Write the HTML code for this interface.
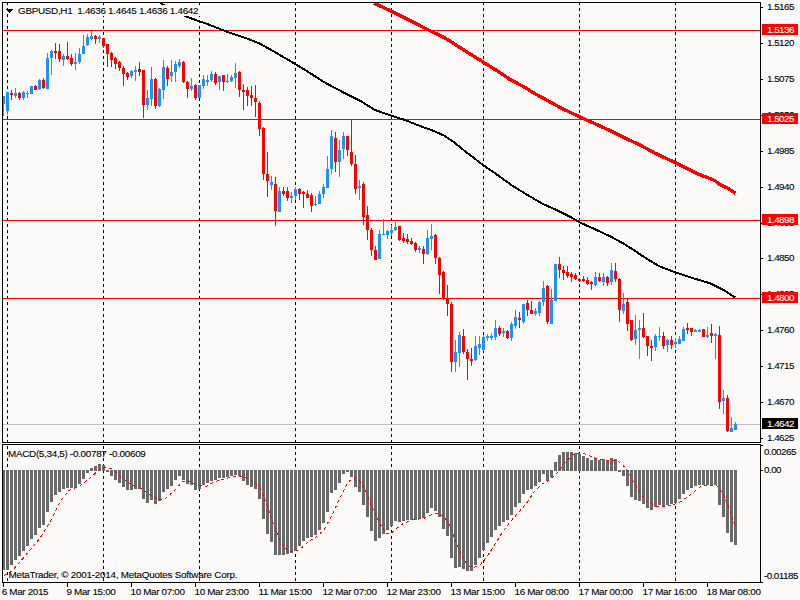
<!DOCTYPE html><html><head><meta charset="utf-8"><title>GBPUSD,H1</title><style>
html,body{margin:0;padding:0;background:#fcfaf9;}
body{width:800px;height:600px;position:relative;overflow:hidden;font-family:"Liberation Sans",sans-serif;font-size:9px;color:#000;}
svg{position:absolute;left:0;top:0;}
svg rect{shape-rendering:crispEdges;}
.g{stroke:#000;stroke-width:1;stroke-dasharray:3 3;shape-rendering:crispEdges;}
.t{position:absolute;white-space:nowrap;line-height:11px;height:11px;}
.t,.pl{font-size:9.9px;-webkit-text-stroke:0.1px currentColor;}
.ax,.pl{letter-spacing:-0.55px;}
.dt{letter-spacing:-0.34px;}
#title{letter-spacing:-0.3px;}
#macd{letter-spacing:-0.3px;}
#copy{letter-spacing:-0.24px;}
.pl{position:absolute;left:762px;width:36px;height:11px;line-height:11px;color:#fff;text-indent:5px;white-space:nowrap;}

</style></head><body>
<svg width="800" height="600" viewBox="0 0 800 600"><line x1="7.5" y1="2" x2="7.5" y2="442" class="g"/>
<line x1="7.5" y1="446" x2="7.5" y2="582" class="g"/>
<line x1="103.5" y1="2" x2="103.5" y2="442" class="g"/>
<line x1="103.5" y1="446" x2="103.5" y2="582" class="g"/>
<line x1="199.5" y1="2" x2="199.5" y2="442" class="g"/>
<line x1="199.5" y1="446" x2="199.5" y2="582" class="g"/>
<line x1="295.5" y1="2" x2="295.5" y2="442" class="g"/>
<line x1="295.5" y1="446" x2="295.5" y2="582" class="g"/>
<line x1="391.5" y1="2" x2="391.5" y2="442" class="g"/>
<line x1="391.5" y1="446" x2="391.5" y2="582" class="g"/>
<line x1="483.5" y1="2" x2="483.5" y2="442" class="g"/>
<line x1="483.5" y1="446" x2="483.5" y2="582" class="g"/>
<line x1="579.5" y1="2" x2="579.5" y2="442" class="g"/>
<line x1="579.5" y1="446" x2="579.5" y2="582" class="g"/>
<line x1="675.5" y1="2" x2="675.5" y2="442" class="g"/>
<line x1="675.5" y1="446" x2="675.5" y2="582" class="g"/>
<rect x="3" y="30" width="757" height="1" fill="#ff0000"/>
<rect x="3" y="119" width="757" height="1" fill="#ff0000"/>
<rect x="3" y="220" width="757" height="1" fill="#ff0000"/>
<rect x="3" y="298" width="757" height="1" fill="#ff0000"/>
<rect x="3" y="424" width="757" height="1" fill="#c0c0c0"/>
<rect x="2" y="470" width="3" height="100" fill="#696969"/>
<rect x="6" y="470" width="3" height="100" fill="#696969"/>
<rect x="10" y="470" width="3" height="95" fill="#696969"/>
<rect x="14" y="470" width="3" height="90" fill="#696969"/>
<rect x="18" y="470" width="3" height="86" fill="#696969"/>
<rect x="22" y="470" width="3" height="81" fill="#696969"/>
<rect x="26" y="470" width="3" height="76" fill="#696969"/>
<rect x="30" y="470" width="3" height="69" fill="#696969"/>
<rect x="34" y="470" width="3" height="65" fill="#696969"/>
<rect x="38" y="470" width="3" height="58" fill="#696969"/>
<rect x="42" y="470" width="3" height="55" fill="#696969"/>
<rect x="46" y="470" width="3" height="42" fill="#696969"/>
<rect x="50" y="470" width="3" height="32" fill="#696969"/>
<rect x="54" y="470" width="3" height="25" fill="#696969"/>
<rect x="58" y="470" width="3" height="22" fill="#696969"/>
<rect x="62" y="470" width="3" height="19" fill="#696969"/>
<rect x="66" y="470" width="3" height="18" fill="#696969"/>
<rect x="70" y="470" width="3" height="18" fill="#696969"/>
<rect x="74" y="470" width="3" height="18" fill="#696969"/>
<rect x="78" y="470" width="3" height="14" fill="#696969"/>
<rect x="82" y="470" width="3" height="9" fill="#696969"/>
<rect x="86" y="470" width="3" height="3" fill="#696969"/>
<rect x="90" y="468" width="3" height="3" fill="#696969"/>
<rect x="94" y="466" width="3" height="5" fill="#696969"/>
<rect x="98" y="464" width="3" height="7" fill="#696969"/>
<rect x="102" y="465" width="3" height="6" fill="#696969"/>
<rect x="106" y="470" width="3" height="2" fill="#696969"/>
<rect x="110" y="470" width="3" height="6" fill="#696969"/>
<rect x="114" y="470" width="3" height="10" fill="#696969"/>
<rect x="118" y="470" width="3" height="13" fill="#696969"/>
<rect x="122" y="470" width="3" height="17" fill="#696969"/>
<rect x="126" y="470" width="3" height="20" fill="#696969"/>
<rect x="130" y="470" width="3" height="20" fill="#696969"/>
<rect x="134" y="470" width="3" height="19" fill="#696969"/>
<rect x="138" y="470" width="3" height="19" fill="#696969"/>
<rect x="142" y="470" width="3" height="29" fill="#696969"/>
<rect x="146" y="470" width="3" height="33" fill="#696969"/>
<rect x="150" y="470" width="3" height="30" fill="#696969"/>
<rect x="154" y="470" width="3" height="34" fill="#696969"/>
<rect x="158" y="470" width="3" height="31" fill="#696969"/>
<rect x="162" y="470" width="3" height="22" fill="#696969"/>
<rect x="166" y="470" width="3" height="19" fill="#696969"/>
<rect x="170" y="470" width="3" height="16" fill="#696969"/>
<rect x="174" y="470" width="3" height="10" fill="#696969"/>
<rect x="178" y="470" width="3" height="6" fill="#696969"/>
<rect x="182" y="470" width="3" height="10" fill="#696969"/>
<rect x="186" y="470" width="3" height="14" fill="#696969"/>
<rect x="190" y="470" width="3" height="15" fill="#696969"/>
<rect x="194" y="470" width="3" height="20" fill="#696969"/>
<rect x="198" y="470" width="3" height="19" fill="#696969"/>
<rect x="202" y="470" width="3" height="15" fill="#696969"/>
<rect x="206" y="470" width="3" height="13" fill="#696969"/>
<rect x="210" y="470" width="3" height="11" fill="#696969"/>
<rect x="214" y="470" width="3" height="10" fill="#696969"/>
<rect x="218" y="470" width="3" height="8" fill="#696969"/>
<rect x="222" y="470" width="3" height="8" fill="#696969"/>
<rect x="226" y="470" width="3" height="7" fill="#696969"/>
<rect x="230" y="470" width="3" height="6" fill="#696969"/>
<rect x="234" y="470" width="3" height="5" fill="#696969"/>
<rect x="238" y="470" width="3" height="6" fill="#696969"/>
<rect x="242" y="470" width="3" height="11" fill="#696969"/>
<rect x="246" y="470" width="3" height="15" fill="#696969"/>
<rect x="250" y="470" width="3" height="17" fill="#696969"/>
<rect x="254" y="470" width="3" height="19" fill="#696969"/>
<rect x="258" y="470" width="3" height="29" fill="#696969"/>
<rect x="262" y="470" width="3" height="49" fill="#696969"/>
<rect x="266" y="470" width="3" height="64" fill="#696969"/>
<rect x="270" y="470" width="3" height="72" fill="#696969"/>
<rect x="274" y="470" width="3" height="85" fill="#696969"/>
<rect x="278" y="470" width="3" height="85" fill="#696969"/>
<rect x="282" y="470" width="3" height="85" fill="#696969"/>
<rect x="286" y="470" width="3" height="84" fill="#696969"/>
<rect x="290" y="470" width="3" height="83" fill="#696969"/>
<rect x="294" y="470" width="3" height="81" fill="#696969"/>
<rect x="298" y="470" width="3" height="76" fill="#696969"/>
<rect x="302" y="470" width="3" height="71" fill="#696969"/>
<rect x="306" y="470" width="3" height="68" fill="#696969"/>
<rect x="310" y="470" width="3" height="67" fill="#696969"/>
<rect x="314" y="470" width="3" height="65" fill="#696969"/>
<rect x="318" y="470" width="3" height="60" fill="#696969"/>
<rect x="322" y="470" width="3" height="53" fill="#696969"/>
<rect x="326" y="470" width="3" height="42" fill="#696969"/>
<rect x="330" y="470" width="3" height="23" fill="#696969"/>
<rect x="334" y="470" width="3" height="20" fill="#696969"/>
<rect x="338" y="470" width="3" height="13" fill="#696969"/>
<rect x="342" y="470" width="3" height="4" fill="#696969"/>
<rect x="346" y="470" width="3" height="2" fill="#696969"/>
<rect x="350" y="470" width="3" height="7" fill="#696969"/>
<rect x="354" y="470" width="3" height="17" fill="#696969"/>
<rect x="358" y="470" width="3" height="22" fill="#696969"/>
<rect x="362" y="470" width="3" height="35" fill="#696969"/>
<rect x="366" y="470" width="3" height="47" fill="#696969"/>
<rect x="370" y="470" width="3" height="61" fill="#696969"/>
<rect x="374" y="470" width="3" height="71" fill="#696969"/>
<rect x="378" y="470" width="3" height="68" fill="#696969"/>
<rect x="382" y="470" width="3" height="64" fill="#696969"/>
<rect x="386" y="470" width="3" height="60" fill="#696969"/>
<rect x="390" y="470" width="3" height="56" fill="#696969"/>
<rect x="394" y="470" width="3" height="51" fill="#696969"/>
<rect x="398" y="470" width="3" height="52" fill="#696969"/>
<rect x="402" y="470" width="3" height="51" fill="#696969"/>
<rect x="406" y="470" width="3" height="50" fill="#696969"/>
<rect x="410" y="470" width="3" height="50" fill="#696969"/>
<rect x="414" y="470" width="3" height="50" fill="#696969"/>
<rect x="418" y="470" width="3" height="49" fill="#696969"/>
<rect x="422" y="470" width="3" height="48" fill="#696969"/>
<rect x="426" y="470" width="3" height="43" fill="#696969"/>
<rect x="430" y="470" width="3" height="38" fill="#696969"/>
<rect x="434" y="470" width="3" height="41" fill="#696969"/>
<rect x="438" y="470" width="3" height="47" fill="#696969"/>
<rect x="442" y="470" width="3" height="59" fill="#696969"/>
<rect x="446" y="470" width="3" height="66" fill="#696969"/>
<rect x="450" y="470" width="3" height="88" fill="#696969"/>
<rect x="454" y="470" width="3" height="98" fill="#696969"/>
<rect x="458" y="470" width="3" height="97" fill="#696969"/>
<rect x="462" y="470" width="3" height="99" fill="#696969"/>
<rect x="466" y="470" width="3" height="101" fill="#696969"/>
<rect x="470" y="470" width="3" height="101" fill="#696969"/>
<rect x="474" y="470" width="3" height="95" fill="#696969"/>
<rect x="478" y="470" width="3" height="88" fill="#696969"/>
<rect x="482" y="470" width="3" height="80" fill="#696969"/>
<rect x="486" y="470" width="3" height="73" fill="#696969"/>
<rect x="490" y="470" width="3" height="67" fill="#696969"/>
<rect x="494" y="470" width="3" height="60" fill="#696969"/>
<rect x="498" y="470" width="3" height="56" fill="#696969"/>
<rect x="502" y="470" width="3" height="52" fill="#696969"/>
<rect x="506" y="470" width="3" height="50" fill="#696969"/>
<rect x="510" y="470" width="3" height="45" fill="#696969"/>
<rect x="514" y="470" width="3" height="37" fill="#696969"/>
<rect x="518" y="470" width="3" height="33" fill="#696969"/>
<rect x="522" y="470" width="3" height="24" fill="#696969"/>
<rect x="526" y="470" width="3" height="20" fill="#696969"/>
<rect x="530" y="470" width="3" height="19" fill="#696969"/>
<rect x="534" y="470" width="3" height="16" fill="#696969"/>
<rect x="538" y="470" width="3" height="12" fill="#696969"/>
<rect x="542" y="470" width="3" height="4" fill="#696969"/>
<rect x="546" y="470" width="3" height="11" fill="#696969"/>
<rect x="550" y="470" width="3" height="7" fill="#696969"/>
<rect x="554" y="462" width="3" height="9" fill="#696969"/>
<rect x="558" y="455" width="3" height="16" fill="#696969"/>
<rect x="562" y="452" width="3" height="19" fill="#696969"/>
<rect x="566" y="452" width="3" height="19" fill="#696969"/>
<rect x="570" y="452" width="3" height="19" fill="#696969"/>
<rect x="574" y="453" width="3" height="18" fill="#696969"/>
<rect x="578" y="454" width="3" height="17" fill="#696969"/>
<rect x="582" y="456" width="3" height="15" fill="#696969"/>
<rect x="586" y="458" width="3" height="13" fill="#696969"/>
<rect x="590" y="460" width="3" height="11" fill="#696969"/>
<rect x="594" y="458" width="3" height="13" fill="#696969"/>
<rect x="598" y="460" width="3" height="11" fill="#696969"/>
<rect x="602" y="459" width="3" height="12" fill="#696969"/>
<rect x="606" y="460" width="3" height="11" fill="#696969"/>
<rect x="610" y="458" width="3" height="13" fill="#696969"/>
<rect x="614" y="459" width="3" height="12" fill="#696969"/>
<rect x="618" y="470" width="3" height="2" fill="#696969"/>
<rect x="622" y="470" width="3" height="6" fill="#696969"/>
<rect x="626" y="470" width="3" height="16" fill="#696969"/>
<rect x="630" y="470" width="3" height="27" fill="#696969"/>
<rect x="634" y="470" width="3" height="30" fill="#696969"/>
<rect x="638" y="470" width="3" height="31" fill="#696969"/>
<rect x="642" y="470" width="3" height="34" fill="#696969"/>
<rect x="646" y="470" width="3" height="38" fill="#696969"/>
<rect x="650" y="470" width="3" height="40" fill="#696969"/>
<rect x="654" y="470" width="3" height="37" fill="#696969"/>
<rect x="658" y="470" width="3" height="35" fill="#696969"/>
<rect x="662" y="470" width="3" height="36" fill="#696969"/>
<rect x="666" y="470" width="3" height="35" fill="#696969"/>
<rect x="670" y="470" width="3" height="34" fill="#696969"/>
<rect x="674" y="470" width="3" height="33" fill="#696969"/>
<rect x="678" y="470" width="3" height="29" fill="#696969"/>
<rect x="682" y="470" width="3" height="24" fill="#696969"/>
<rect x="686" y="470" width="3" height="20" fill="#696969"/>
<rect x="690" y="470" width="3" height="18" fill="#696969"/>
<rect x="694" y="470" width="3" height="16" fill="#696969"/>
<rect x="698" y="470" width="3" height="15" fill="#696969"/>
<rect x="702" y="470" width="3" height="15" fill="#696969"/>
<rect x="706" y="470" width="3" height="15" fill="#696969"/>
<rect x="710" y="470" width="3" height="15" fill="#696969"/>
<rect x="714" y="470" width="3" height="15" fill="#696969"/>
<rect x="718" y="470" width="3" height="35" fill="#696969"/>
<rect x="722" y="470" width="3" height="47" fill="#696969"/>
<rect x="726" y="470" width="3" height="63" fill="#696969"/>
<rect x="730" y="470" width="3" height="72" fill="#696969"/>
<rect x="734" y="470" width="3" height="75" fill="#696969"/>
<polyline points="4,575.6 12,571 20,562 30,550 40,538 50,522 60,502 68,491 80,486 90,478 100,469 106,467.6 112,469 120,476 130,484 140,488 150,495 158,500 166,498 174,491 182,482 190,481 198,485.6 206,486.4 214,482 224,479 234,476.4 240,476.4 248,478.4 254,482 260,488 266,502 272,520 278,536 284,547 290,552 296,551 302,547.6 308,542 316,537 324,530 332,515 340,498 348,482 354,478 360,481 366,492 372,507 380,524 386,533 390,534.4 396,529 404,523 412,520 424,518.4 432,514.4 438,513.6 444,516.4 450,526 456,542 462,556 468,566 474,567.6 480,565 486,558 494,546 502,533 510,522 518,513 526,504 534,492 542,484 550,479.6 558,472 564,464 572,455 578,453 584,453.6 592,457 600,459.6 608,460.4 616,460.4 622,464 628,471 634,483 640,493 648,502 656,506 664,506.4 672,505 680,502 688,496.4 696,490.4 700,487 708,485 716,485 722,492 728,505 734,523 736,528" fill="none" stroke="#ff0000" stroke-width="1" stroke-dasharray="3 3" shape-rendering="crispEdges"/>
<rect x="3" y="96" width="1" height="20" fill="#1e90ff"/>
<rect x="2" y="96" width="3" height="8" fill="#1e90ff"/>
<rect x="7" y="92" width="1" height="23" fill="#1e90ff"/>
<rect x="6" y="92" width="3" height="19" fill="#1e90ff"/>
<rect x="11" y="90" width="1" height="10" fill="#ff0000"/>
<rect x="10" y="93" width="3" height="2" fill="#ff0000"/>
<rect x="15" y="88" width="1" height="10" fill="#1e90ff"/>
<rect x="14" y="93" width="3" height="3" fill="#1e90ff"/>
<rect x="19" y="92" width="1" height="8" fill="#ff0000"/>
<rect x="18" y="93" width="3" height="5" fill="#ff0000"/>
<rect x="23" y="91" width="1" height="9" fill="#1e90ff"/>
<rect x="22" y="92" width="3" height="6" fill="#1e90ff"/>
<rect x="27" y="91" width="1" height="7" fill="#1e90ff"/>
<rect x="26" y="93" width="3" height="1" fill="#1e90ff"/>
<rect x="31" y="86" width="1" height="8" fill="#1e90ff"/>
<rect x="30" y="86" width="3" height="8" fill="#1e90ff"/>
<rect x="35" y="85" width="1" height="5" fill="#ff0000"/>
<rect x="34" y="86" width="3" height="4" fill="#ff0000"/>
<rect x="39" y="79" width="1" height="11" fill="#1e90ff"/>
<rect x="38" y="80" width="3" height="9" fill="#1e90ff"/>
<rect x="43" y="78" width="1" height="11" fill="#ff0000"/>
<rect x="42" y="80" width="3" height="8" fill="#ff0000"/>
<rect x="47" y="53" width="1" height="36" fill="#1e90ff"/>
<rect x="46" y="58" width="3" height="31" fill="#1e90ff"/>
<rect x="51" y="50" width="1" height="25" fill="#1e90ff"/>
<rect x="50" y="51" width="3" height="7" fill="#1e90ff"/>
<rect x="55" y="43" width="1" height="16" fill="#ff0000"/>
<rect x="54" y="51" width="3" height="2" fill="#ff0000"/>
<rect x="59" y="44" width="1" height="18" fill="#ff0000"/>
<rect x="58" y="51" width="3" height="8" fill="#ff0000"/>
<rect x="63" y="54" width="1" height="12" fill="#1e90ff"/>
<rect x="62" y="56" width="3" height="4" fill="#1e90ff"/>
<rect x="67" y="42" width="1" height="18" fill="#ff0000"/>
<rect x="66" y="56" width="3" height="3" fill="#ff0000"/>
<rect x="71" y="54" width="1" height="12" fill="#ff0000"/>
<rect x="70" y="58" width="3" height="6" fill="#ff0000"/>
<rect x="75" y="53" width="1" height="17" fill="#1e90ff"/>
<rect x="74" y="62" width="3" height="2" fill="#1e90ff"/>
<rect x="79" y="48" width="1" height="16" fill="#1e90ff"/>
<rect x="78" y="54" width="3" height="8" fill="#1e90ff"/>
<rect x="83" y="35" width="1" height="19" fill="#1e90ff"/>
<rect x="82" y="46" width="3" height="8" fill="#1e90ff"/>
<rect x="87" y="34" width="1" height="12" fill="#1e90ff"/>
<rect x="86" y="37" width="3" height="8" fill="#1e90ff"/>
<rect x="91" y="31" width="1" height="9" fill="#1e90ff"/>
<rect x="90" y="36" width="3" height="3" fill="#1e90ff"/>
<rect x="95" y="35" width="1" height="9" fill="#ff0000"/>
<rect x="94" y="36" width="3" height="3" fill="#ff0000"/>
<rect x="99" y="35" width="1" height="8" fill="#1e90ff"/>
<rect x="98" y="37" width="3" height="2" fill="#1e90ff"/>
<rect x="103" y="38" width="1" height="10" fill="#ff0000"/>
<rect x="102" y="38" width="3" height="8" fill="#ff0000"/>
<rect x="107" y="44" width="1" height="23" fill="#ff0000"/>
<rect x="106" y="44" width="3" height="10" fill="#ff0000"/>
<rect x="111" y="52" width="1" height="15" fill="#ff0000"/>
<rect x="110" y="53" width="3" height="7" fill="#ff0000"/>
<rect x="115" y="57" width="1" height="12" fill="#ff0000"/>
<rect x="114" y="58" width="3" height="6" fill="#ff0000"/>
<rect x="119" y="61" width="1" height="10" fill="#ff0000"/>
<rect x="118" y="62" width="3" height="6" fill="#ff0000"/>
<rect x="123" y="66" width="1" height="20" fill="#ff0000"/>
<rect x="122" y="68" width="3" height="6" fill="#ff0000"/>
<rect x="127" y="72" width="1" height="8" fill="#ff0000"/>
<rect x="126" y="73" width="3" height="4" fill="#ff0000"/>
<rect x="131" y="70" width="1" height="8" fill="#1e90ff"/>
<rect x="130" y="71" width="3" height="5" fill="#1e90ff"/>
<rect x="135" y="66" width="1" height="15" fill="#1e90ff"/>
<rect x="134" y="70" width="3" height="2" fill="#1e90ff"/>
<rect x="139" y="62" width="1" height="14" fill="#ff0000"/>
<rect x="138" y="69" width="3" height="3" fill="#ff0000"/>
<rect x="143" y="70" width="1" height="48" fill="#ff0000"/>
<rect x="142" y="70" width="3" height="35" fill="#ff0000"/>
<rect x="147" y="90" width="1" height="20" fill="#1e90ff"/>
<rect x="146" y="98" width="3" height="7" fill="#1e90ff"/>
<rect x="151" y="67" width="1" height="39" fill="#1e90ff"/>
<rect x="150" y="79" width="3" height="20" fill="#1e90ff"/>
<rect x="155" y="78" width="1" height="31" fill="#ff0000"/>
<rect x="154" y="79" width="3" height="27" fill="#ff0000"/>
<rect x="159" y="88" width="1" height="19" fill="#1e90ff"/>
<rect x="158" y="89" width="3" height="17" fill="#1e90ff"/>
<rect x="163" y="60" width="1" height="39" fill="#1e90ff"/>
<rect x="162" y="67" width="3" height="23" fill="#1e90ff"/>
<rect x="167" y="66" width="1" height="20" fill="#ff0000"/>
<rect x="166" y="68" width="3" height="11" fill="#ff0000"/>
<rect x="171" y="60" width="1" height="22" fill="#1e90ff"/>
<rect x="170" y="72" width="3" height="4" fill="#1e90ff"/>
<rect x="175" y="61" width="1" height="21" fill="#1e90ff"/>
<rect x="174" y="64" width="3" height="8" fill="#1e90ff"/>
<rect x="179" y="59" width="1" height="9" fill="#1e90ff"/>
<rect x="178" y="62" width="3" height="4" fill="#1e90ff"/>
<rect x="183" y="61" width="1" height="22" fill="#ff0000"/>
<rect x="182" y="62" width="3" height="20" fill="#ff0000"/>
<rect x="187" y="81" width="1" height="17" fill="#ff0000"/>
<rect x="186" y="82" width="3" height="7" fill="#ff0000"/>
<rect x="191" y="78" width="1" height="13" fill="#1e90ff"/>
<rect x="190" y="86" width="3" height="3" fill="#1e90ff"/>
<rect x="195" y="84" width="1" height="16" fill="#ff0000"/>
<rect x="194" y="85" width="3" height="13" fill="#ff0000"/>
<rect x="199" y="85" width="1" height="13" fill="#1e90ff"/>
<rect x="198" y="85" width="3" height="13" fill="#1e90ff"/>
<rect x="203" y="75" width="1" height="14" fill="#1e90ff"/>
<rect x="202" y="79" width="3" height="7" fill="#1e90ff"/>
<rect x="207" y="75" width="1" height="11" fill="#1e90ff"/>
<rect x="206" y="80" width="3" height="2" fill="#1e90ff"/>
<rect x="211" y="71" width="1" height="11" fill="#1e90ff"/>
<rect x="210" y="74" width="3" height="6" fill="#1e90ff"/>
<rect x="215" y="72" width="1" height="13" fill="#ff0000"/>
<rect x="214" y="74" width="3" height="9" fill="#ff0000"/>
<rect x="219" y="76" width="1" height="14" fill="#1e90ff"/>
<rect x="218" y="76" width="3" height="6" fill="#1e90ff"/>
<rect x="223" y="75" width="1" height="16" fill="#ff0000"/>
<rect x="222" y="75" width="3" height="7" fill="#ff0000"/>
<rect x="227" y="74" width="1" height="9" fill="#1e90ff"/>
<rect x="226" y="81" width="3" height="1" fill="#1e90ff"/>
<rect x="231" y="75" width="1" height="7" fill="#1e90ff"/>
<rect x="230" y="77" width="3" height="4" fill="#1e90ff"/>
<rect x="235" y="63" width="1" height="25" fill="#1e90ff"/>
<rect x="234" y="73" width="3" height="5" fill="#1e90ff"/>
<rect x="239" y="71" width="1" height="26" fill="#ff0000"/>
<rect x="238" y="72" width="3" height="18" fill="#ff0000"/>
<rect x="243" y="84" width="1" height="26" fill="#ff0000"/>
<rect x="242" y="90" width="3" height="2" fill="#ff0000"/>
<rect x="247" y="87" width="1" height="19" fill="#ff0000"/>
<rect x="246" y="90" width="3" height="6" fill="#ff0000"/>
<rect x="251" y="86" width="1" height="20" fill="#ff0000"/>
<rect x="250" y="95" width="3" height="3" fill="#ff0000"/>
<rect x="255" y="85" width="1" height="32" fill="#ff0000"/>
<rect x="254" y="98" width="3" height="4" fill="#ff0000"/>
<rect x="259" y="101" width="1" height="35" fill="#ff0000"/>
<rect x="258" y="103" width="3" height="26" fill="#ff0000"/>
<rect x="263" y="127" width="1" height="53" fill="#ff0000"/>
<rect x="262" y="128" width="3" height="46" fill="#ff0000"/>
<rect x="267" y="152" width="1" height="45" fill="#ff0000"/>
<rect x="266" y="174" width="3" height="7" fill="#ff0000"/>
<rect x="271" y="176" width="1" height="14" fill="#1e90ff"/>
<rect x="270" y="182" width="3" height="3" fill="#1e90ff"/>
<rect x="275" y="177" width="1" height="49" fill="#ff0000"/>
<rect x="274" y="184" width="3" height="27" fill="#ff0000"/>
<rect x="279" y="187" width="1" height="25" fill="#1e90ff"/>
<rect x="278" y="191" width="3" height="21" fill="#1e90ff"/>
<rect x="283" y="187" width="1" height="9" fill="#ff0000"/>
<rect x="282" y="191" width="3" height="3" fill="#ff0000"/>
<rect x="287" y="187" width="1" height="14" fill="#ff0000"/>
<rect x="286" y="191" width="3" height="7" fill="#ff0000"/>
<rect x="291" y="192" width="1" height="11" fill="#1e90ff"/>
<rect x="290" y="196" width="3" height="2" fill="#1e90ff"/>
<rect x="295" y="187" width="1" height="13" fill="#1e90ff"/>
<rect x="294" y="189" width="3" height="7" fill="#1e90ff"/>
<rect x="299" y="188" width="1" height="12" fill="#ff0000"/>
<rect x="298" y="189" width="3" height="5" fill="#ff0000"/>
<rect x="303" y="191" width="1" height="17" fill="#ff0000"/>
<rect x="302" y="192" width="3" height="2" fill="#ff0000"/>
<rect x="307" y="190" width="1" height="8" fill="#ff0000"/>
<rect x="306" y="194" width="3" height="4" fill="#ff0000"/>
<rect x="311" y="193" width="1" height="19" fill="#ff0000"/>
<rect x="310" y="195" width="3" height="11" fill="#ff0000"/>
<rect x="315" y="196" width="1" height="10" fill="#1e90ff"/>
<rect x="314" y="204" width="3" height="1" fill="#1e90ff"/>
<rect x="319" y="191" width="1" height="13" fill="#1e90ff"/>
<rect x="318" y="194" width="3" height="10" fill="#1e90ff"/>
<rect x="323" y="184" width="1" height="14" fill="#1e90ff"/>
<rect x="322" y="187" width="3" height="7" fill="#1e90ff"/>
<rect x="327" y="156" width="1" height="32" fill="#1e90ff"/>
<rect x="326" y="169" width="3" height="19" fill="#1e90ff"/>
<rect x="331" y="130" width="1" height="44" fill="#1e90ff"/>
<rect x="330" y="136" width="3" height="33" fill="#1e90ff"/>
<rect x="335" y="132" width="1" height="40" fill="#ff0000"/>
<rect x="334" y="138" width="3" height="24" fill="#ff0000"/>
<rect x="339" y="140" width="1" height="37" fill="#1e90ff"/>
<rect x="338" y="150" width="3" height="12" fill="#1e90ff"/>
<rect x="343" y="132" width="1" height="27" fill="#1e90ff"/>
<rect x="342" y="136" width="3" height="13" fill="#1e90ff"/>
<rect x="347" y="136" width="1" height="20" fill="#ff0000"/>
<rect x="346" y="136" width="3" height="14" fill="#ff0000"/>
<rect x="351" y="120" width="1" height="46" fill="#ff0000"/>
<rect x="350" y="152" width="3" height="12" fill="#ff0000"/>
<rect x="355" y="155" width="1" height="39" fill="#ff0000"/>
<rect x="354" y="164" width="3" height="25" fill="#ff0000"/>
<rect x="359" y="180" width="1" height="20" fill="#1e90ff"/>
<rect x="358" y="186" width="3" height="2" fill="#1e90ff"/>
<rect x="363" y="182" width="1" height="43" fill="#ff0000"/>
<rect x="362" y="184" width="3" height="33" fill="#ff0000"/>
<rect x="367" y="206" width="1" height="34" fill="#ff0000"/>
<rect x="366" y="215" width="3" height="15" fill="#ff0000"/>
<rect x="371" y="228" width="1" height="28" fill="#ff0000"/>
<rect x="370" y="230" width="3" height="20" fill="#ff0000"/>
<rect x="375" y="246" width="1" height="14" fill="#ff0000"/>
<rect x="374" y="250" width="3" height="10" fill="#ff0000"/>
<rect x="379" y="230" width="1" height="29" fill="#1e90ff"/>
<rect x="378" y="234" width="3" height="25" fill="#1e90ff"/>
<rect x="383" y="219" width="1" height="16" fill="#1e90ff"/>
<rect x="382" y="234" width="3" height="1" fill="#1e90ff"/>
<rect x="387" y="230" width="1" height="9" fill="#1e90ff"/>
<rect x="386" y="231" width="3" height="4" fill="#1e90ff"/>
<rect x="391" y="225" width="1" height="11" fill="#1e90ff"/>
<rect x="390" y="230" width="3" height="3" fill="#1e90ff"/>
<rect x="395" y="222" width="1" height="9" fill="#1e90ff"/>
<rect x="394" y="227" width="3" height="3" fill="#1e90ff"/>
<rect x="399" y="226" width="1" height="15" fill="#ff0000"/>
<rect x="398" y="226" width="3" height="14" fill="#ff0000"/>
<rect x="403" y="233" width="1" height="10" fill="#ff0000"/>
<rect x="402" y="238" width="3" height="3" fill="#ff0000"/>
<rect x="407" y="234" width="1" height="10" fill="#ff0000"/>
<rect x="406" y="239" width="3" height="3" fill="#ff0000"/>
<rect x="411" y="238" width="1" height="7" fill="#ff0000"/>
<rect x="410" y="241" width="3" height="3" fill="#ff0000"/>
<rect x="415" y="242" width="1" height="10" fill="#ff0000"/>
<rect x="414" y="243" width="3" height="7" fill="#ff0000"/>
<rect x="419" y="246" width="1" height="7" fill="#1e90ff"/>
<rect x="418" y="248" width="3" height="2" fill="#1e90ff"/>
<rect x="423" y="246" width="1" height="18" fill="#ff0000"/>
<rect x="422" y="249" width="3" height="5" fill="#ff0000"/>
<rect x="427" y="230" width="1" height="25" fill="#1e90ff"/>
<rect x="426" y="238" width="3" height="16" fill="#1e90ff"/>
<rect x="431" y="224" width="1" height="26" fill="#1e90ff"/>
<rect x="430" y="236" width="3" height="3" fill="#1e90ff"/>
<rect x="435" y="234" width="1" height="30" fill="#ff0000"/>
<rect x="434" y="235" width="3" height="23" fill="#ff0000"/>
<rect x="439" y="257" width="1" height="37" fill="#ff0000"/>
<rect x="438" y="258" width="3" height="17" fill="#ff0000"/>
<rect x="443" y="271" width="1" height="29" fill="#ff0000"/>
<rect x="442" y="272" width="3" height="27" fill="#ff0000"/>
<rect x="447" y="285" width="1" height="31" fill="#ff0000"/>
<rect x="446" y="298" width="3" height="6" fill="#ff0000"/>
<rect x="451" y="302" width="1" height="70" fill="#ff0000"/>
<rect x="450" y="304" width="3" height="58" fill="#ff0000"/>
<rect x="455" y="340" width="1" height="32" fill="#1e90ff"/>
<rect x="454" y="352" width="3" height="10" fill="#1e90ff"/>
<rect x="459" y="332" width="1" height="35" fill="#1e90ff"/>
<rect x="458" y="335" width="3" height="18" fill="#1e90ff"/>
<rect x="463" y="329" width="1" height="25" fill="#ff0000"/>
<rect x="462" y="336" width="3" height="16" fill="#ff0000"/>
<rect x="467" y="349" width="1" height="31" fill="#ff0000"/>
<rect x="466" y="352" width="3" height="7" fill="#ff0000"/>
<rect x="471" y="348" width="1" height="18" fill="#ff0000"/>
<rect x="470" y="359" width="3" height="2" fill="#ff0000"/>
<rect x="475" y="336" width="1" height="25" fill="#1e90ff"/>
<rect x="474" y="346" width="3" height="14" fill="#1e90ff"/>
<rect x="479" y="336" width="1" height="19" fill="#1e90ff"/>
<rect x="478" y="344" width="3" height="4" fill="#1e90ff"/>
<rect x="483" y="335" width="1" height="16" fill="#1e90ff"/>
<rect x="482" y="337" width="3" height="13" fill="#1e90ff"/>
<rect x="487" y="334" width="1" height="7" fill="#1e90ff"/>
<rect x="486" y="336" width="3" height="2" fill="#1e90ff"/>
<rect x="491" y="333" width="1" height="7" fill="#1e90ff"/>
<rect x="490" y="336" width="3" height="2" fill="#1e90ff"/>
<rect x="495" y="320" width="1" height="20" fill="#1e90ff"/>
<rect x="494" y="328" width="3" height="9" fill="#1e90ff"/>
<rect x="499" y="326" width="1" height="10" fill="#ff0000"/>
<rect x="498" y="328" width="3" height="6" fill="#ff0000"/>
<rect x="503" y="328" width="1" height="9" fill="#1e90ff"/>
<rect x="502" y="331" width="3" height="2" fill="#1e90ff"/>
<rect x="507" y="330" width="1" height="9" fill="#ff0000"/>
<rect x="506" y="331" width="3" height="7" fill="#ff0000"/>
<rect x="511" y="322" width="1" height="19" fill="#1e90ff"/>
<rect x="510" y="324" width="3" height="14" fill="#1e90ff"/>
<rect x="515" y="310" width="1" height="19" fill="#1e90ff"/>
<rect x="514" y="317" width="3" height="9" fill="#1e90ff"/>
<rect x="519" y="312" width="1" height="16" fill="#ff0000"/>
<rect x="518" y="318" width="3" height="2" fill="#ff0000"/>
<rect x="523" y="304" width="1" height="20" fill="#1e90ff"/>
<rect x="522" y="304" width="3" height="18" fill="#1e90ff"/>
<rect x="527" y="300" width="1" height="16" fill="#ff0000"/>
<rect x="526" y="303" width="3" height="7" fill="#ff0000"/>
<rect x="531" y="301" width="1" height="13" fill="#ff0000"/>
<rect x="530" y="310" width="3" height="4" fill="#ff0000"/>
<rect x="535" y="308" width="1" height="8" fill="#1e90ff"/>
<rect x="534" y="311" width="3" height="3" fill="#1e90ff"/>
<rect x="539" y="301" width="1" height="15" fill="#1e90ff"/>
<rect x="538" y="302" width="3" height="11" fill="#1e90ff"/>
<rect x="543" y="281" width="1" height="25" fill="#1e90ff"/>
<rect x="542" y="288" width="3" height="14" fill="#1e90ff"/>
<rect x="547" y="285" width="1" height="39" fill="#ff0000"/>
<rect x="546" y="286" width="3" height="36" fill="#ff0000"/>
<rect x="551" y="289" width="1" height="35" fill="#1e90ff"/>
<rect x="550" y="300" width="3" height="24" fill="#1e90ff"/>
<rect x="555" y="264" width="1" height="37" fill="#1e90ff"/>
<rect x="554" y="264" width="3" height="37" fill="#1e90ff"/>
<rect x="559" y="257" width="1" height="21" fill="#ff0000"/>
<rect x="558" y="264" width="3" height="6" fill="#ff0000"/>
<rect x="563" y="266" width="1" height="14" fill="#ff0000"/>
<rect x="562" y="270" width="3" height="3" fill="#ff0000"/>
<rect x="567" y="266" width="1" height="12" fill="#ff0000"/>
<rect x="566" y="272" width="3" height="4" fill="#ff0000"/>
<rect x="571" y="272" width="1" height="10" fill="#ff0000"/>
<rect x="570" y="274" width="3" height="3" fill="#ff0000"/>
<rect x="575" y="273" width="1" height="7" fill="#ff0000"/>
<rect x="574" y="275" width="3" height="4" fill="#ff0000"/>
<rect x="579" y="278" width="1" height="4" fill="#ff0000"/>
<rect x="578" y="279" width="3" height="2" fill="#ff0000"/>
<rect x="583" y="276" width="1" height="6" fill="#ff0000"/>
<rect x="582" y="279" width="3" height="2" fill="#ff0000"/>
<rect x="587" y="277" width="1" height="8" fill="#ff0000"/>
<rect x="586" y="280" width="3" height="4" fill="#ff0000"/>
<rect x="591" y="281" width="1" height="9" fill="#ff0000"/>
<rect x="590" y="282" width="3" height="2" fill="#ff0000"/>
<rect x="595" y="272" width="1" height="14" fill="#1e90ff"/>
<rect x="594" y="277" width="3" height="8" fill="#1e90ff"/>
<rect x="599" y="273" width="1" height="9" fill="#ff0000"/>
<rect x="598" y="277" width="3" height="4" fill="#ff0000"/>
<rect x="603" y="273" width="1" height="13" fill="#1e90ff"/>
<rect x="602" y="277" width="3" height="5" fill="#1e90ff"/>
<rect x="607" y="276" width="1" height="10" fill="#ff0000"/>
<rect x="606" y="277" width="3" height="6" fill="#ff0000"/>
<rect x="611" y="263" width="1" height="22" fill="#1e90ff"/>
<rect x="610" y="270" width="3" height="12" fill="#1e90ff"/>
<rect x="615" y="263" width="1" height="19" fill="#ff0000"/>
<rect x="614" y="271" width="3" height="8" fill="#ff0000"/>
<rect x="619" y="278" width="1" height="44" fill="#ff0000"/>
<rect x="618" y="279" width="3" height="31" fill="#ff0000"/>
<rect x="623" y="293" width="1" height="21" fill="#1e90ff"/>
<rect x="622" y="304" width="3" height="7" fill="#1e90ff"/>
<rect x="627" y="299" width="1" height="32" fill="#ff0000"/>
<rect x="626" y="302" width="3" height="22" fill="#ff0000"/>
<rect x="631" y="320" width="1" height="21" fill="#ff0000"/>
<rect x="630" y="320" width="3" height="20" fill="#ff0000"/>
<rect x="635" y="315" width="1" height="30" fill="#1e90ff"/>
<rect x="634" y="330" width="3" height="9" fill="#1e90ff"/>
<rect x="639" y="320" width="1" height="39" fill="#1e90ff"/>
<rect x="638" y="328" width="3" height="2" fill="#1e90ff"/>
<rect x="643" y="313" width="1" height="25" fill="#ff0000"/>
<rect x="642" y="328" width="3" height="9" fill="#ff0000"/>
<rect x="647" y="336" width="1" height="20" fill="#ff0000"/>
<rect x="646" y="336" width="3" height="10" fill="#ff0000"/>
<rect x="651" y="340" width="1" height="21" fill="#ff0000"/>
<rect x="650" y="346" width="3" height="2" fill="#ff0000"/>
<rect x="655" y="334" width="1" height="17" fill="#1e90ff"/>
<rect x="654" y="336" width="3" height="11" fill="#1e90ff"/>
<rect x="659" y="327" width="1" height="14" fill="#1e90ff"/>
<rect x="658" y="336" width="3" height="1" fill="#1e90ff"/>
<rect x="663" y="332" width="1" height="17" fill="#ff0000"/>
<rect x="662" y="336" width="3" height="10" fill="#ff0000"/>
<rect x="667" y="339" width="1" height="13" fill="#1e90ff"/>
<rect x="666" y="340" width="3" height="5" fill="#1e90ff"/>
<rect x="671" y="336" width="1" height="13" fill="#ff0000"/>
<rect x="670" y="340" width="3" height="5" fill="#ff0000"/>
<rect x="675" y="338" width="1" height="10" fill="#1e90ff"/>
<rect x="674" y="342" width="3" height="2" fill="#1e90ff"/>
<rect x="679" y="336" width="1" height="8" fill="#1e90ff"/>
<rect x="678" y="339" width="3" height="5" fill="#1e90ff"/>
<rect x="683" y="327" width="1" height="14" fill="#1e90ff"/>
<rect x="682" y="329" width="3" height="12" fill="#1e90ff"/>
<rect x="687" y="323" width="1" height="11" fill="#ff0000"/>
<rect x="686" y="328" width="3" height="2" fill="#ff0000"/>
<rect x="691" y="328" width="1" height="8" fill="#ff0000"/>
<rect x="690" y="328" width="3" height="4" fill="#ff0000"/>
<rect x="695" y="329" width="1" height="3" fill="#1e90ff"/>
<rect x="694" y="330" width="3" height="2" fill="#1e90ff"/>
<rect x="699" y="329" width="1" height="3" fill="#1e90ff"/>
<rect x="698" y="330" width="3" height="2" fill="#1e90ff"/>
<rect x="703" y="329" width="1" height="8" fill="#ff0000"/>
<rect x="702" y="329" width="3" height="8" fill="#ff0000"/>
<rect x="707" y="327" width="1" height="11" fill="#1e90ff"/>
<rect x="706" y="335" width="3" height="2" fill="#1e90ff"/>
<rect x="711" y="324" width="1" height="19" fill="#ff0000"/>
<rect x="710" y="333" width="3" height="3" fill="#ff0000"/>
<rect x="715" y="333" width="1" height="26" fill="#1e90ff"/>
<rect x="714" y="334" width="3" height="2" fill="#1e90ff"/>
<rect x="719" y="326" width="1" height="83" fill="#ff0000"/>
<rect x="718" y="335" width="3" height="67" fill="#ff0000"/>
<rect x="723" y="390" width="1" height="24" fill="#1e90ff"/>
<rect x="722" y="398" width="3" height="3" fill="#1e90ff"/>
<rect x="727" y="395" width="1" height="37" fill="#ff0000"/>
<rect x="726" y="398" width="3" height="33" fill="#ff0000"/>
<rect x="731" y="417" width="1" height="15" fill="#1e90ff"/>
<rect x="730" y="428" width="3" height="4" fill="#1e90ff"/>
<rect x="735" y="422" width="1" height="8" fill="#1e90ff"/>
<rect x="734" y="424" width="3" height="6" fill="#1e90ff"/>
<clipPath id="cm"><rect x="3" y="3" width="757" height="439"/></clipPath><g clip-path="url(#cm)">
<polyline points="160,3 186,16.5 200,21.5 210,25 225,31 235,34.5 247.5,38.75 260,43.75 272.5,50.75 285,58 296,64.5 310,73 322.5,81.25 335,88 347.5,94.5 360,100.75 375,110 391,115.5 405,120 420,126 432.5,130.5 445,136 455,143 465,151.25 483.75,165.5 497.5,175 512.5,185.75 527.5,195 542.5,203.75 557.5,210.5 570,216.75 580,222.5 595,229.25 610,236.25 622.5,243 632.5,249.25 644,257 658.7,266 675.5,272.4 691.7,277.8 710,283.3 724.7,290.7 735,297.3" fill="none" stroke="#000" stroke-width="2" shape-rendering="crispEdges" stroke-linejoin="round"/>
<polyline points="373.75,3 391,11 410,20.5 427.5,29.5 445,38 460,47.5 472.5,55.5 483.75,62.5 497.5,71 510,79.5 522.5,86 535,93.75 547.5,100.5 560,107.5 580,117 595,123.75 610,130.5 625,138 640,145 655,153.2 675.5,162.7 697.5,173.75 715,180.6 719,184.2 727.5,188 735.5,193.3" fill="none" stroke="#ff0000" stroke-width="3.4" shape-rendering="crispEdges" stroke-linejoin="round"/>
</g>
<rect x="2" y="2" width="759" height="1" fill="#000"/>
<rect x="2" y="442" width="759" height="1" fill="#000"/>
<rect x="2" y="444" width="759" height="1" fill="#000"/>
<rect x="2" y="582" width="759" height="1" fill="#000"/>
<rect x="2" y="2" width="1" height="441" fill="#000"/>
<rect x="2" y="444" width="1" height="139" fill="#000"/>
<rect x="760" y="2" width="1" height="441" fill="#000"/>
<rect x="760" y="444" width="1" height="139" fill="#000"/>
<rect x="761" y="7" width="2" height="1" fill="#000"/>
<rect x="761" y="43" width="2" height="1" fill="#000"/>
<rect x="761" y="79" width="2" height="1" fill="#000"/>
<rect x="761" y="115" width="2" height="1" fill="#000"/>
<rect x="761" y="151" width="2" height="1" fill="#000"/>
<rect x="761" y="187" width="2" height="1" fill="#000"/>
<rect x="761" y="223" width="2" height="1" fill="#000"/>
<rect x="761" y="258" width="2" height="1" fill="#000"/>
<rect x="761" y="294" width="2" height="1" fill="#000"/>
<rect x="761" y="330" width="2" height="1" fill="#000"/>
<rect x="761" y="366" width="2" height="1" fill="#000"/>
<rect x="761" y="402" width="2" height="1" fill="#000"/>
<rect x="761" y="438" width="2" height="1" fill="#000"/>
<rect x="761" y="445" width="2" height="1" fill="#000"/>
<rect x="761" y="470" width="2" height="1" fill="#000"/>
<rect x="761" y="582" width="2" height="1" fill="#000"/>
<rect x="3" y="583" width="1" height="4" fill="#000"/>
<rect x="67" y="583" width="1" height="4" fill="#000"/>
<rect x="131" y="583" width="1" height="4" fill="#000"/>
<rect x="195" y="583" width="1" height="4" fill="#000"/>
<rect x="259" y="583" width="1" height="4" fill="#000"/>
<rect x="323" y="583" width="1" height="4" fill="#000"/>
<rect x="387" y="583" width="1" height="4" fill="#000"/>
<rect x="451" y="583" width="1" height="4" fill="#000"/>
<rect x="515" y="583" width="1" height="4" fill="#000"/>
<rect x="579" y="583" width="1" height="4" fill="#000"/>
<rect x="643" y="583" width="1" height="4" fill="#000"/>
<rect x="707" y="583" width="1" height="4" fill="#000"/></svg>
<div class="t" style="left:14px;top:5px;width:186px;height:11px;background:#fcfaf9;"></div>
<svg style="left:6px;top:9px" width="7" height="4" viewBox="0 0 7 4"><rect x="0" y="0" width="7" height="1"/><rect x="1" y="1" width="5" height="1"/><rect x="2" y="2" width="3" height="1"/><rect x="3" y="3" width="1" height="1"/></svg>
<div class="t" id="title" style="left:18px;top:5px;">GBPUSD,H1&nbsp; 1.4636 1.4645 1.4636 1.4642</div>
<div class="t" id="macd" style="left:8px;top:448px;">MACD(5,34,5) -0.00787 -0.00609</div>
<div class="t" id="copy" style="left:8.5px;top:569px;">MetaTrader, © 2001-2014, MetaQuotes Software Corp.</div>
<div class="t ax" style="left:767px;top:1px;">1.5165</div>
<div class="t ax" style="left:767px;top:37px;">1.5120</div>
<div class="t ax" style="left:767px;top:73px;">1.5075</div>
<div class="t ax" style="left:767px;top:109px;">1.5030</div>
<div class="t ax" style="left:767px;top:145px;">1.4985</div>
<div class="t ax" style="left:767px;top:181px;">1.4940</div>
<div class="t ax" style="left:767px;top:217px;">1.4895</div>
<div class="t ax" style="left:767px;top:252px;">1.4850</div>
<div class="t ax" style="left:767px;top:288px;">1.4805</div>
<div class="t ax" style="left:767px;top:324px;">1.4760</div>
<div class="t ax" style="left:767px;top:360px;">1.4715</div>
<div class="t ax" style="left:767px;top:396px;">1.4670</div>
<div class="t ax" style="left:767px;top:432px;">1.4625</div>
<div class="t ax" style="left:764px;top:446px;">0.00265</div>
<div class="t ax" style="left:764px;top:464px;">0.00</div>
<div class="t ax" style="left:764px;top:570px;">-0.01185</div>
<div class="pl" style="top:24px;background:#ff0000;">1.5136</div>
<div class="pl" style="top:113px;background:#ff0000;">1.5025</div>
<div class="pl" style="top:214px;background:#ff0000;">1.4898</div>
<div class="pl" style="top:292px;background:#ff0000;">1.4800</div>
<div class="pl" style="top:418px;background:#000;">1.4642</div>
<div class="t dt" style="left:1.7px;top:586px;">6 Mar 2015</div>
<div class="t dt" style="left:66.5px;top:586px;">9 Mar 15:00</div>
<div class="t dt" style="left:130.5px;top:586px;">10 Mar 07:00</div>
<div class="t dt" style="left:194.5px;top:586px;">10 Mar 23:00</div>
<div class="t dt" style="left:258.5px;top:586px;">11 Mar 15:00</div>
<div class="t dt" style="left:322.5px;top:586px;">12 Mar 07:00</div>
<div class="t dt" style="left:386.5px;top:586px;">12 Mar 23:00</div>
<div class="t dt" style="left:450.5px;top:586px;">13 Mar 15:00</div>
<div class="t dt" style="left:514.5px;top:586px;">16 Mar 08:00</div>
<div class="t dt" style="left:578.5px;top:586px;">17 Mar 00:00</div>
<div class="t dt" style="left:642.5px;top:586px;">17 Mar 16:00</div>
<div class="t dt" style="left:706.5px;top:586px;">18 Mar 08:00</div>
</body></html>
